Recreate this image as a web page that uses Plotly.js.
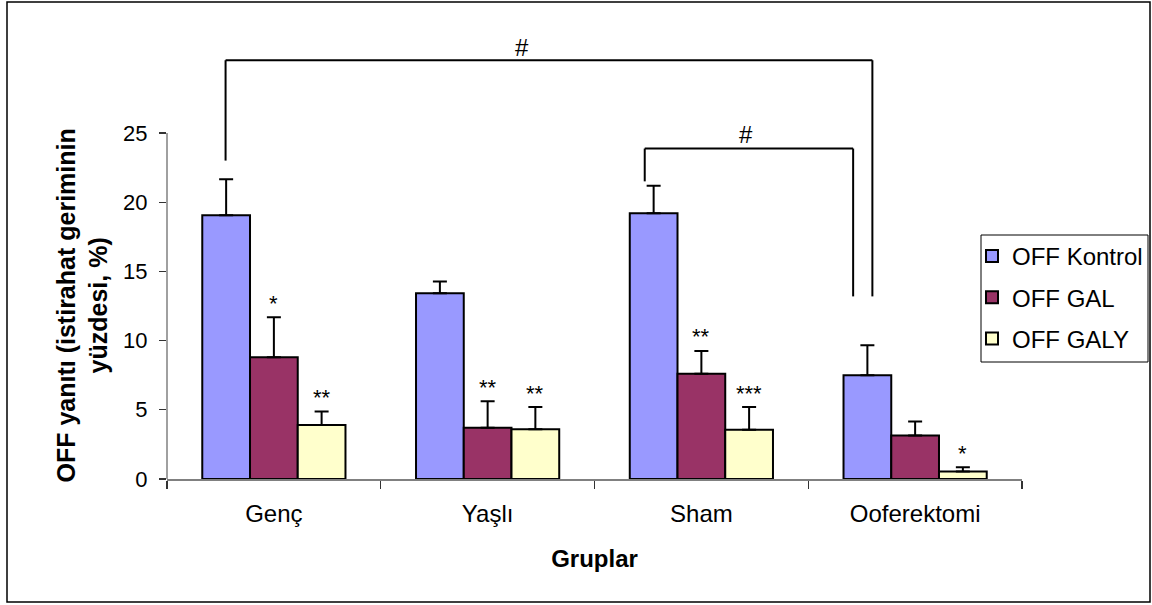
<!DOCTYPE html>
<html>
<head>
<meta charset="utf-8">
<script src="https://cdn.plot.ly/plotly-3.0.1.min.js"></script>
<style>
html,body{margin:0;padding:0;background:#fff;}
#chart{width:1152px;height:605px;}
</style>
</head>
<body>
<div id="chart"></div>
<script>
// ---- data ----
const categories = ["Genç", "Yaşlı", "Sham", "Ooferektomi"];
const seriesNames = ["OFF Kontrol", "OFF GAL", "OFF GALY"];
const kontrolValues = [19.05, 13.41, 19.19, 7.49];
const kontrolErrors = [2.60, 0.85, 2.00, 2.17];
const galValues = [8.79, 3.71, 7.61, 3.15];
const galErrors = [2.89, 1.90, 1.64, 1.01];
const galyValues = [3.90, 3.59, 3.56, 0.55];
const galyErrors = [0.98, 1.61, 1.64, 0.29];
const galStars = ["*", "**", "**", ""];
const galyStars = ["**", "**", "***", "*"];
const yTicks = [0, 5, 10, 15, 20, 25];

const colors = ["#9999FF", "#993366", "#FFFFCC"];
const FONT = "Liberation Sans, Arial, sans-serif";

const values = [kontrolValues, galValues, galyValues];
const errors = [kontrolErrors, galErrors, galyErrors];

const traces = values.map((v, i) => ({
  type: "bar",
  name: seriesNames[i],
  legendgroup: "g" + i,
  x: categories,
  y: v,
  marker: {color: colors[i], line: {color: "#000", width: 2}},
  error_y: {type: "data", symmetric: false, array: errors[i],
            arrayminus: v.map(() => 0), color: "#000", thickness: 2, width: 7}
}));

const bargap = 0.33;
const barW = (1 - bargap) / 3;

const annotations = [];
// significance stars
[[galStars, 1], [galyStars, 2]].forEach(([stars, s]) => {
  stars.forEach((st, c) => {
    if (!st) return;
    annotations.push({
      x: c + (s - 1) * barW, y: values[s][c] + errors[s][c], xref: "x", yref: "y",
      text: st, showarrow: false, yanchor: "middle", yshift: 14,
      font: {family: FONT, size: 22, color: "#000"}
    });
  });
});
// hash marks
annotations.push({x: 1.159, y: 31.16, xref: "x", yref: "y", text: "#", showarrow: false,
  font: {family: FONT, size: 24, color: "#000"}});
annotations.push({x: 2.208, y: 24.87, xref: "x", yref: "y", text: "#", showarrow: false,
  font: {family: FONT, size: 24, color: "#000"}});
// y axis title
annotations.push({
  x: -0.0988, y: 12.5, xref: "paper", yref: "y", textangle: -90,
  text: "OFF yanıtı (istirahat geriminin<br>yüzdesi, %)", showarrow: false,
  xanchor: "center", yanchor: "middle", align: "center",
  font: {family: FONT, size: 25, color: "#000", weight: "bold"}
});

const L = 167, R = 130, T = 36, B = 126, W = 1152, H = 605;
const pw = W - L - R, ph = H - T - B;
const px = v => (v - L) / pw;
const py = v => (H - B - v) / ph;

const bl = {color: "#000", width: 2};
const shapes = [
  // big bracket
  {type: "line", xref: "x", yref: "y", x0: -0.226, x1: -0.226, y0: 23.0, y1: 30.25, line: bl},
  {type: "line", xref: "x", yref: "y", x0: -0.226, x1: 2.80, y0: 30.25, y1: 30.25, line: bl},
  {type: "line", xref: "x", yref: "y", x0: 2.80, x1: 2.80, y0: 13.19, y1: 30.25, line: bl},
  // small bracket
  {type: "line", xref: "x", yref: "y", x0: 1.735, x1: 1.735, y0: 21.5, y1: 23.87, line: bl},
  {type: "line", xref: "x", yref: "y", x0: 1.735, x1: 2.71, y0: 23.87, y1: 23.87, line: bl},
  {type: "line", xref: "x", yref: "y", x0: 2.71, x1: 2.71, y0: 13.19, y1: 23.87, line: bl},
  // y axis line (0..25 only)
  {type: "line", xref: "paper", yref: "y", x0: 0, x1: 0, y0: 0, y1: 25, line: {color: "#808080", width: 1.5}},
  // legend frame
  {type: "rect", xref: "paper", yref: "paper", x0: px(981), x1: px(1148), y0: py(362), y1: py(235),
   line: {color: "#000", width: 1}, fillcolor: "#fff", layer: "above"},
  // outer frame
  {type: "rect", xref: "paper", yref: "paper",
   x0: px(7), x1: px(1150), y0: py(602), y1: py(2),
   line: {color: "#000", width: 1.5}, fillcolor: "rgba(0,0,0,0)", layer: "below"}
];

const layout = {
  width: W, height: H,
  margin: {l: L, r: R, t: T, b: B, pad: 0, autoexpand: false},
  paper_bgcolor: "#fff", plot_bgcolor: "#fff",
  barmode: "group", bargap: bargap, bargroupgap: 0,
  font: {family: FONT, color: "#000"},
  xaxis: {
    type: "category", range: [-0.5, 3.5], showline: true, linecolor: "#808080", linewidth: 1.5,
    ticks: "outside", tickson: "boundaries", ticklen: 8, tickcolor: "#333", tickwidth: 1.2,
    ticklabelstandoff: 13,
    tickfont: {family: FONT, size: 24, color: "#000"}, showgrid: false, zeroline: false,
    title: {text: "Gruplar", font: {family: FONT, size: 24, color: "#000", weight: "bold"}, standoff: 24}
  },
  yaxis: {
    range: [0, 32.0], tickvals: yTicks, ticktext: yTicks.map(String), showline: false,
    ticks: "outside", ticklen: 7, tickcolor: "#333", tickwidth: 1.2, ticklabelstandoff: 7,
    tickfont: {family: FONT, size: 22, color: "#000"}, showgrid: false, zeroline: false
  },
  legend: {
    x: px(972), y: py(234), xanchor: "left", yanchor: "top",
    bgcolor: "rgba(0,0,0,0)", borderwidth: 0, tracegroupgap: 7,
    font: {family: FONT, size: 24, color: "#000"}, traceorder: "grouped"
  },
  annotations: annotations,
  shapes: shapes,
  showlegend: true
};

Plotly.newPlot("chart", traces, layout, {displayModeBar: false, staticPlot: true});
</script>
</body>
</html>
